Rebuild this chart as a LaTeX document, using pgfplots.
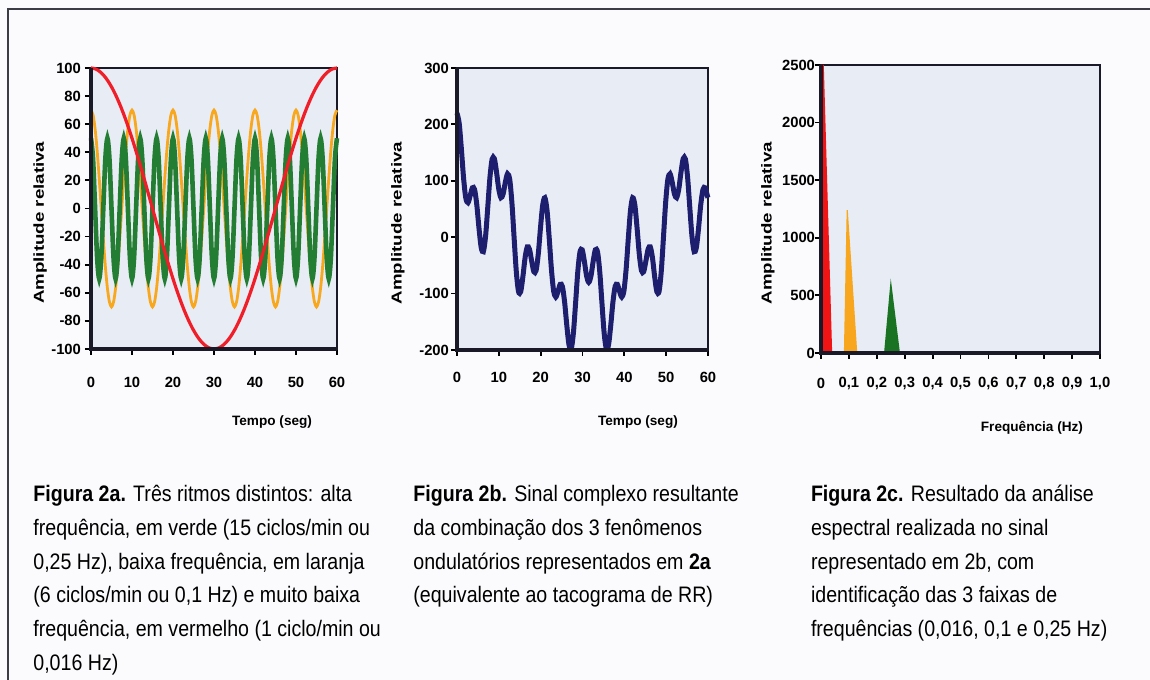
\documentclass[border=0pt]{standalone}
\usepackage{fontspec}
\setmainfont{Liberation Sans}
\usepackage{graphicx}
\usepackage{pgfplots}
\pgfplotsset{compat=1.18}
\definecolor{pagebg}{RGB}{251,251,253}
\definecolor{axbg}{RGB}{232,236,244}
\definecolor{axdark}{RGB}{25,25,40}
\definecolor{framecol}{RGB}{60,60,70}
\definecolor{cgreen}{RGB}{35,125,50}
\definecolor{corange}{RGB}{248,168,30}
\definecolor{cred}{RGB}{240,30,40}
\definecolor{cnavy}{RGB}{30,30,110}
\definecolor{fred}{RGB}{240,20,20}
\definecolor{forange}{RGB}{247,166,30}
\definecolor{fgreen}{RGB}{25,115,35}
\newcommand\capfont{\fontsize{10bp}{12bp}\selectfont}
\newcommand\cl[1]{\scalebox{0.98}[1.12]{#1}}
\pgfplotsset{panel/.style={
  scale only axis, anchor=south west,
  axis background/.style={fill=axbg},
  axis line style={line width=0.9bp, draw=axdark},
  tick align=outside, xtick pos=left, ytick pos=left,
  major tick length=3bp, tick style={line width=0.9bp, black},
  tick label style={font=\fontsize{7.4bp}{8bp}\selectfont\bfseries},
  label style={font=\fontsize{6.8bp}{8bp}\selectfont\bfseries},
  /pgf/number format/assume math mode=true,
  /pgf/number format/1000 sep={},
  clip=false,
  after end axis/.code={\draw[line width=1.6bp, axdark] (rel axis cs:0,1) -- (rel axis cs:0,0) -- (rel axis cs:1,0);},
}}
\begin{document}
\begin{tikzpicture}
\path[use as bounding box] (0,0) rectangle (575bp,340bp);
\fill[pagebg] (0,0) rectangle (575bp,340bp);
\draw[line width=1.2bp, framecol] (4bp,0) -- (4bp,335.5bp) -- (575bp,335.5bp);

% ---------- Figura 2a ----------
\begin{axis}[panel, at={(45.5bp,165.5bp)}, width=123bp, height=140.5bp,
  xmin=0, xmax=60, ymin=-100, ymax=100,
  xtick={0,10,20,30,40,50,60}, ytick={-100,-80,-60,-40,-20,0,20,40,60,80,100},
  xlabel={Tempo (seg)}, ylabel={\scalebox{1.3}[1]{Amplitude relativa}},
  xlabel style={at={(axis description cs:0.736,-0.26)}, anchor=center},
  ylabel style={at={(axis description cs:-0.207,0.449)}, anchor=center, font=\fontsize{7.2bp}{8bp}\selectfont\bfseries},
  xticklabel style={anchor=center, yshift=-13.5bp},
  yticklabel style={anchor=east, xshift=1.5bp}]
\addplot[corange, line width=1.4bp, smooth] coordinates {
(0,70)(0.5,66.57)(1,56.63)(1.5,41.15)(2,21.63)(2.5,0)(3,-21.63)(3.5,-41.15)(4,-56.63)(4.5,-66.57)(5,-70)(5.5,-66.57)(6,-56.63)(6.5,-41.15)(7,-21.63)(7.5,0)(8,21.63)(8.5,41.15)(9,56.63)(9.5,66.57)
(10,70)(10.5,66.57)(11,56.63)(11.5,41.15)(12,21.63)(12.5,0)(13,-21.63)(13.5,-41.15)(14,-56.63)(14.5,-66.57)(15,-70)(15.5,-66.57)(16,-56.63)(16.5,-41.15)(17,-21.63)(17.5,0)(18,21.63)(18.5,41.15)(19,56.63)(19.5,66.57)
(20,70)(20.5,66.57)(21,56.63)(21.5,41.15)(22,21.63)(22.5,0)(23,-21.63)(23.5,-41.15)(24,-56.63)(24.5,-66.57)(25,-70)(25.5,-66.57)(26,-56.63)(26.5,-41.15)(27,-21.63)(27.5,0)(28,21.63)(28.5,41.15)(29,56.63)(29.5,66.57)
(30,70)(30.5,66.57)(31,56.63)(31.5,41.15)(32,21.63)(32.5,0)(33,-21.63)(33.5,-41.15)(34,-56.63)(34.5,-66.57)(35,-70)(35.5,-66.57)(36,-56.63)(36.5,-41.15)(37,-21.63)(37.5,0)(38,21.63)(38.5,41.15)(39,56.63)(39.5,66.57)
(40,70)(40.5,66.57)(41,56.63)(41.5,41.15)(42,21.63)(42.5,0)(43,-21.63)(43.5,-41.15)(44,-56.63)(44.5,-66.57)(45,-70)(45.5,-66.57)(46,-56.63)(46.5,-41.15)(47,-21.63)(47.5,0)(48,21.63)(48.5,41.15)(49,56.63)(49.5,66.57)
(50,70)(50.5,66.57)(51,56.63)(51.5,41.15)(52,21.63)(52.5,0)(53,-21.63)(53.5,-41.15)(54,-56.63)(54.5,-66.57)(55,-70)(55.5,-66.57)(56,-56.63)(56.5,-41.15)(57,-21.63)(57.5,0)(58,21.63)(58.5,41.15)(59,56.63)(59.5,66.57)
(60,70)};
\addplot[cgreen, line width=2.3bp, smooth] coordinates {
(0,50)(0.5,35.36)(1,0)(1.5,-35.36)(2,-50)(2.5,-35.36)(3,0)(3.5,35.36)
(4,50)(4.5,35.36)(5,0)(5.5,-35.36)(6,-50)(6.5,-35.36)(7,0)(7.5,35.36)
(8,50)(8.5,35.36)(9,0)(9.5,-35.36)(10,-50)(10.5,-35.36)(11,0)(11.5,35.36)
(12,50)(12.5,35.36)(13,0)(13.5,-35.36)(14,-50)(14.5,-35.36)(15,0)(15.5,35.36)
(16,50)(16.5,35.36)(17,0)(17.5,-35.36)(18,-50)(18.5,-35.36)(19,0)(19.5,35.36)
(20,50)(20.5,35.36)(21,0)(21.5,-35.36)(22,-50)(22.5,-35.36)(23,0)(23.5,35.36)
(24,50)(24.5,35.36)(25,0)(25.5,-35.36)(26,-50)(26.5,-35.36)(27,0)(27.5,35.36)
(28,50)(28.5,35.36)(29,0)(29.5,-35.36)(30,-50)(30.5,-35.36)(31,0)(31.5,35.36)
(32,50)(32.5,35.36)(33,0)(33.5,-35.36)(34,-50)(34.5,-35.36)(35,0)(35.5,35.36)
(36,50)(36.5,35.36)(37,0)(37.5,-35.36)(38,-50)(38.5,-35.36)(39,0)(39.5,35.36)
(40,50)(40.5,35.36)(41,0)(41.5,-35.36)(42,-50)(42.5,-35.36)(43,0)(43.5,35.36)
(44,50)(44.5,35.36)(45,0)(45.5,-35.36)(46,-50)(46.5,-35.36)(47,0)(47.5,35.36)
(48,50)(48.5,35.36)(49,0)(49.5,-35.36)(50,-50)(50.5,-35.36)(51,0)(51.5,35.36)
(52,50)(52.5,35.36)(53,0)(53.5,-35.36)(54,-50)(54.5,-35.36)(55,0)(55.5,35.36)
(56,50)(56.5,35.36)(57,0)(57.5,-35.36)(58,-50)(58.5,-35.36)(59,0)(59.5,35.36)
(60,50)};
\addplot[cred, line width=1.6bp, smooth] coordinates {
(0,100)(1,99.45)(2,97.81)(3,95.11)(4,91.35)(5,86.60)(6,80.90)(7,74.31)(8,66.91)(9,58.78)(10,50)
(11,40.67)(12,30.90)(13,20.79)(14,10.45)(15,0)(16,-10.45)(17,-20.79)(18,-30.90)(19,-40.67)(20,-50)
(21,-58.78)(22,-66.91)(23,-74.31)(24,-80.90)(25,-86.60)(26,-91.35)(27,-95.11)(28,-97.81)(29,-99.45)(30,-100)
(31,-99.45)(32,-97.81)(33,-95.11)(34,-91.35)(35,-86.60)(36,-80.90)(37,-74.31)(38,-66.91)(39,-58.78)(40,-50)
(41,-40.67)(42,-30.90)(43,-20.79)(44,-10.45)(45,0)(46,10.45)(47,20.79)(48,30.90)(49,40.67)(50,50)
(51,58.78)(52,66.91)(53,74.31)(54,80.90)(55,86.60)(56,91.35)(57,95.11)(58,97.81)(59,99.45)(60,100)};
\end{axis}

% ---------- Figura 2b ----------
\begin{axis}[panel, at={(228.5bp,165bp)}, width=125.5bp, height=141bp,
  xmin=0, xmax=60, ymin=-200, ymax=300,
  xtick={0,10,20,30,40,50,60}, ytick={-200,-100,0,100,200,300},
  xlabel={Tempo (seg)}, ylabel={\scalebox{1.3}[1]{Amplitude relativa}},
  xlabel style={at={(axis description cs:0.721,-0.255)}, anchor=center},
  ylabel style={at={(axis description cs:-0.235,0.45)}, anchor=center, font=\fontsize{7.2bp}{8bp}\selectfont\bfseries},
  xticklabel style={anchor=center, yshift=-10.5bp},
  yticklabel style={anchor=east, xshift=2.5bp}]
\addplot[cnavy, line width=2.5bp, smooth] coordinates {
(0,220.0)(0.525,201.8)(1.05,156.1)(1.575,104.6)(2.1,69.4)(2.625,61.2)(3.15,73.5)(3.675,87.6)(4.2,84.7)(4.725,57.9)
(5.25,16.6)(5.775,-18.1)(6.3,-25.7)(6.825,1.2)(7.35,52.7)(7.875,106.1)(8.4,138.5)(8.925,139.4)(9.45,115.4)(9.975,85.7)
(10.5,70.0)(11.025,76.6)(11.55,97.3)(12.075,112.4)(12.6,102.5)(13.125,61.2)(13.65,-0.8)(14.175,-60.9)(14.7,-96.2)(15.225,-96.7)
(15.75,-70.0)(16.275,-36.4)(16.8,-17.1)(17.325,-21.4)(17.85,-42.4)(18.375,-61.2)(18.9,-59.3)(19.425,-30.1)(19.95,16.0)(20.475,56.5)
(21,70.0)(21.525,47.5)(22.05,-2.2)(22.575,-57.1)(23.1,-95.3)(23.625,-106.1)(24.15,-95.9)(24.675,-83.5)(25.2,-87.5)(25.725,-115.1)
(26.25,-156.6)(26.775,-191.0)(27.3,-198.0)(27.825,-169.9)(28.35,-116.7)(28.875,-61.2)(29.4,-26.2)(29.925,-22.3)(30.45,-42.8)(30.975,-68.7)
(31.5,-80.0)(32.025,-68.7)(32.55,-42.8)(33.075,-22.3)(33.6,-26.2)(34.125,-61.2)(34.65,-116.7)(35.175,-169.9)(35.7,-198.0)(36.225,-191.0)
(36.75,-156.6)(37.275,-115.1)(37.8,-87.5)(38.325,-83.5)(38.85,-95.9)(39.375,-106.1)(39.9,-95.3)(40.425,-57.1)(40.95,-2.2)(41.475,47.5)
(42,70.0)(42.525,56.5)(43.05,16.0)(43.575,-30.1)(44.1,-59.3)(44.625,-61.2)(45.15,-42.4)(45.675,-21.4)(46.2,-17.1)(46.725,-36.4)
(47.25,-70.0)(47.775,-96.7)(48.3,-96.2)(48.825,-60.9)(49.35,-0.8)(49.875,61.2)(50.4,102.5)(50.925,112.4)(51.45,97.3)(51.975,76.6)
(52.5,70.0)(53.025,85.7)(53.55,115.4)(54.075,139.4)(54.6,138.5)(55.125,106.1)(55.65,52.7)(56.175,1.2)(56.7,-25.7)(57.225,-18.1)
(57.75,16.6)(58.275,57.9)(58.8,84.7)(59.325,87.6)(59.85,73.5)(60,70.0)};
\end{axis}

% ---------- Figura 2c ----------
\begin{axis}[panel, at={(410.5bp,163.5bp)}, width=139.5bp, height=144bp,
  xmin=0, xmax=1, ymin=0, ymax=2500,
  xtick={0,0.1,0.2,0.3,0.4,0.5,0.6,0.7,0.8,0.9,1},
  xticklabels={0,{0,1},{0,2},{0,3},{0,4},{0,5},{0,6},{0,7},{0,8},{0,9},{1,0}},
  ytick={0,500,1000,1500,2000,2500},
  xlabel={Frequência (Hz)}, ylabel={\scalebox{1.3}[1]{Amplitude relativa}},
  xlabel style={at={(axis description cs:0.756,-0.26)}, anchor=center},
  ylabel style={at={(axis description cs:-0.19,0.451)}, anchor=center, font=\fontsize{7.2bp}{8bp}\selectfont\bfseries},
  xticklabel style={anchor=center, yshift=-12bp},
  yticklabel style={anchor=east, xshift=3.5bp}]
\addplot[fill=fred, draw=none] coordinates {(0,0)(0,2500)(0.01,2500)(0.04,0)} \closedcycle;
\addplot[fill=forange, draw=none] coordinates {(0.082,0)(0.092,1240)(0.096,1240)(0.130,0)} \closedcycle;
\addplot[fill=fgreen, draw=none] coordinates {(0.226,0)(0.250,645)(0.283,0)} \closedcycle;
\end{axis}

% ---------- captions ----------
\begin{scope}[every node/.style={anchor=base west, inner sep=0pt, font=\capfont}]
\node at (16.5bp,89bp) {\cl{\textbf{Figura 2a.} Três ritmos distintos: alta}};
\node at (16.5bp,72.2bp) {\cl{frequência, em verde (15 ciclos/min ou}};
\node at (16.5bp,55.4bp) {\cl{0,25 Hz), baixa frequência, em laranja}};
\node at (16.5bp,38.6bp) {\cl{(6 ciclos/min ou 0,1 Hz) e muito baixa}};
\node at (16.5bp,21.8bp) {\cl{frequência, em vermelho (1 ciclo/min ou}};
\node at (16.5bp,5bp) {\cl{0,016 Hz)}};
\node at (206.5bp,89bp) {\cl{\textbf{Figura 2b.} Sinal complexo resultante}};
\node at (206.5bp,72.2bp) {\cl{da combinação dos 3 fenômenos}};
\node at (206.5bp,55.4bp) {\cl{ondulatórios representados em \textbf{2a}}};
\node at (206.5bp,38.6bp) {\cl{(equivalente ao tacograma de RR)}};
\node at (405.3bp,89bp) {\cl{\textbf{Figura 2c.} Resultado da análise}};
\node at (405.3bp,72.2bp) {\cl{espectral realizada no sinal}};
\node at (405.3bp,55.4bp) {\cl{representado em 2b, com}};
\node at (405.3bp,38.6bp) {\cl{identificação das 3 faixas de}};
\node at (405.3bp,21.8bp) {\cl{frequências (0,016, 0,1 e 0,25 Hz)}};
\end{scope}
\end{tikzpicture}
\end{document}
